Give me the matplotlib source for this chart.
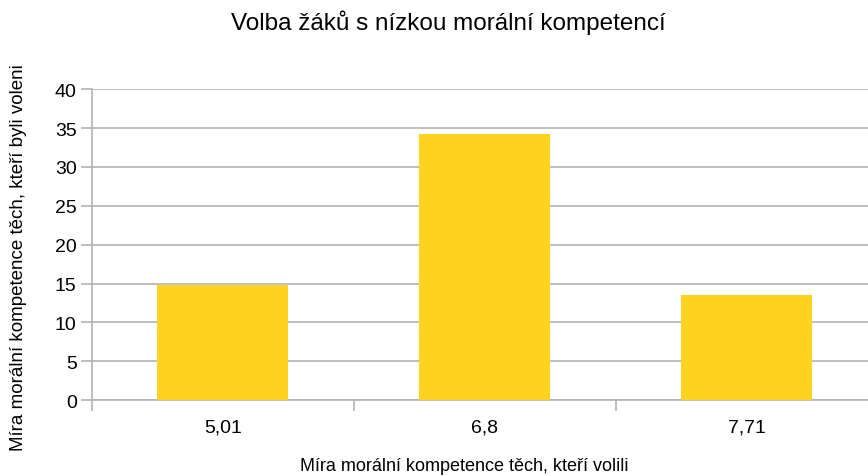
import matplotlib.pyplot as plt

plt.rcParams['font.family'] = ['Liberation Sans', 'DejaVu Sans']

categories = ['5,01', '6,8', '7,71']
values = [14.8, 34.2, 13.5]
yticks = [0, 5, 10, 15, 20, 25, 30, 35, 40]

fig = plt.figure(figsize=(8.68, 4.77), dpi=100)
ax = fig.add_axes([0.106, 0.159, 0.905, 0.652])

x = range(len(categories))
ax.bar(x, values, width=0.5, color='#ffd320', zorder=3)

ax.set_xlim(-0.5, len(categories) - 0.5)
ax.set_ylim(0, 40)
ax.set_yticks(yticks)
ax.set_yticklabels([str(v) for v in yticks], fontsize=14)
ax.yaxis.grid(True, color='#b3b3b3', linewidth=1.2, zorder=0)

# category labels centred under bars, ticks on the boundaries
ax.set_xticks([i - 0.5 for i in range(len(categories) + 1)])
ax.set_xticklabels([])
ax.set_xticks(list(x), minor=True)
ax.set_xticklabels(categories, minor=True, fontsize=14)
ax.tick_params(axis='x', which='minor', length=0, pad=13)
ax.tick_params(axis='x', which='major', length=8, color='#b3b3b3', width=1.2)
ax.tick_params(axis='y', length=8, color='#b3b3b3', width=1.2, pad=3)

for s in ['top', 'right']:
    ax.spines[s].set_visible(False)
for s in ['left', 'bottom']:
    ax.spines[s].set_color('#b3b3b3')
    ax.spines[s].set_linewidth(1.2)

fig.text(0.516, 0.952, 'Volba žáků s nízkou morální kompetencí', fontsize=17.5,
         ha='center', va='center')
fig.text(0.535, 0.022, 'Míra morální kompetence těch, kteří volili', fontsize=13,
         ha='center', va='center')
fig.text(0.021, 0.459, 'Míra morální kompetence těch, kteří byli voleni', fontsize=13.5,
         ha='center', va='center', rotation=90)

fig.savefig('out.png', dpi=100)
